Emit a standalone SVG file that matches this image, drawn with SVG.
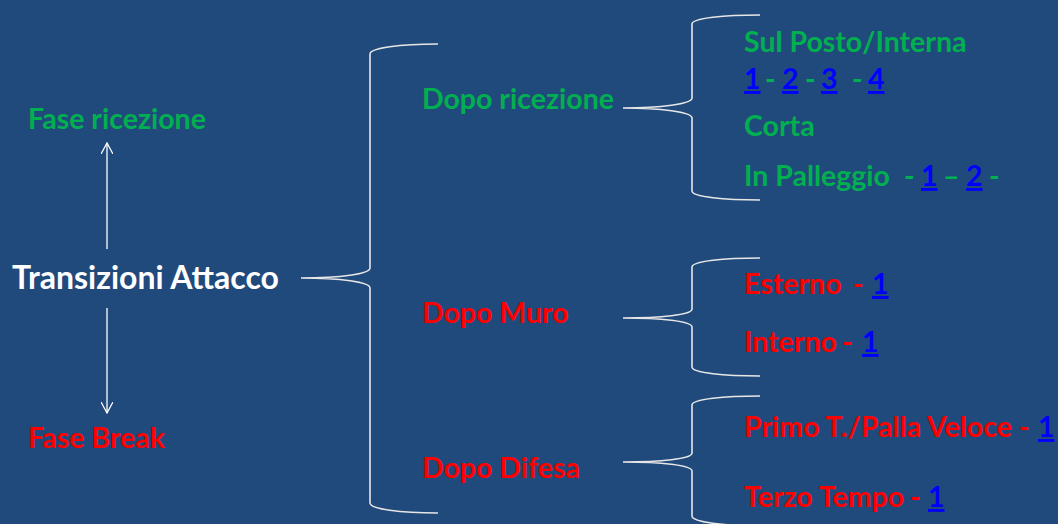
<svg xmlns="http://www.w3.org/2000/svg" width="1058" height="524" viewBox="0 0 1058 524">
<style>
text{font-family:Lato,"Open Sans","Liberation Sans",sans-serif;font-weight:bold;font-size:28.5px}
.big{font-size:32px}
.g{fill:#00B050}.r{fill:#FF0000}.w{fill:#FFFFFF}.b{fill:#0000FF;text-decoration:underline}
.br{fill:none;stroke:#E6E6E6;stroke-width:1.6}
.ar{fill:none;stroke:#FFFFFF;stroke-width:1.3}
</style>
<defs>
<marker id="arr" viewBox="0 0 12 12" refX="11" refY="6" markerWidth="12" markerHeight="12" markerUnits="userSpaceOnUse" orient="auto">
<path d="M0,0 L11,6 L0,12" fill="none" stroke="#FFFFFF" stroke-width="1.3"/>
</marker>
</defs>
<rect width="1058" height="524" fill="#214A7C"/>
<g id="connectors">
<line class="ar" x1="107" y1="249" x2="107" y2="143" marker-end="url(#arr)"/>
<line class="ar" x1="107" y1="308" x2="107" y2="413" marker-end="url(#arr)"/>
<path class="br" d="M438,44 C400,44 370,48 370,54 L370,268 C370,274 340,278 301,278 C340,278 370,282 370,288 L370,503 C370,509 400,513 438,513"/>
<path class="br" d="M760,15 C725,15 692,18 692,24 L692,98 C692,104 660,108 623,108 C660,108 692,112 692,118 L692,191 C692,197 725,200 760,200"/>
<path class="br" d="M760,258 C725,258 692,261 692,267 L692,309 C692,315 660,318 623,318 C660,318 692,321 692,327 L692,367 C692,373 725,376 760,376"/>
<path class="br" d="M760,396 C725,396 692,399 692,405 L692,453 C692,459 660,462 623,462 C660,462 692,465 692,471 L692,516 C692,522 725,526 760,526"/>
</g>
<g id="n-transizioni"><text class="w big" x="12" y="289">Transizioni Attacco</text></g>
<g id="n-fase-ricezione"><text class="g" x="28" y="129">Fase ricezione</text></g>
<g id="n-fase-break"><text class="r" x="28" y="448">Fase Break</text></g>
<g id="n-dopo-ricezione"><text class="g" x="422" y="109">Dopo ricezione</text></g>
<g id="n-dopo-muro"><text class="r" x="422" y="323">Dopo Muro</text></g>
<g id="n-dopo-difesa"><text class="r" x="422" y="478">Dopo Difesa</text></g>
<g id="n-sul-posto">
<text class="g" x="744" y="52">Sul Posto/Interna</text>
<text y="89"><tspan class="b" x="744">1</tspan><tspan class="g" x="765">-</tspan><tspan class="b" x="782">2</tspan><tspan class="g" x="805">-</tspan><tspan class="b" x="821">3</tspan><tspan class="g" x="852">-</tspan><tspan class="b" x="868">4</tspan></text>
</g>
<g id="n-corta"><text class="g" x="744" y="136">Corta</text></g>
<g id="n-palleggio"><text y="186"><tspan class="g" x="744">In Palleggio</tspan><tspan class="g" x="904">-</tspan><tspan class="b" x="921">1</tspan><tspan class="g" x="943">–</tspan><tspan class="b" x="966">2</tspan><tspan class="g" x="989">-</tspan></text></g>
<g id="n-esterno"><text y="294"><tspan class="r" x="744">Esterno</tspan><tspan class="r" x="853">-</tspan><tspan class="b" x="872">1</tspan></text></g>
<g id="n-interno"><text y="352"><tspan class="r" x="744">Interno</tspan><tspan class="r" x="842">-</tspan><tspan class="b" x="862">1</tspan></text></g>
<g id="n-primo"><text y="437"><tspan class="r" x="744">Primo T./Palla Veloce</tspan><tspan class="r" x="1019">-</tspan><tspan class="b" x="1038">1</tspan></text></g>
<g id="n-terzo"><text y="507"><tspan class="r" x="744">Terzo Tempo</tspan><tspan class="r" x="910">-</tspan><tspan class="b" x="928">1</tspan></text></g>
</svg>
